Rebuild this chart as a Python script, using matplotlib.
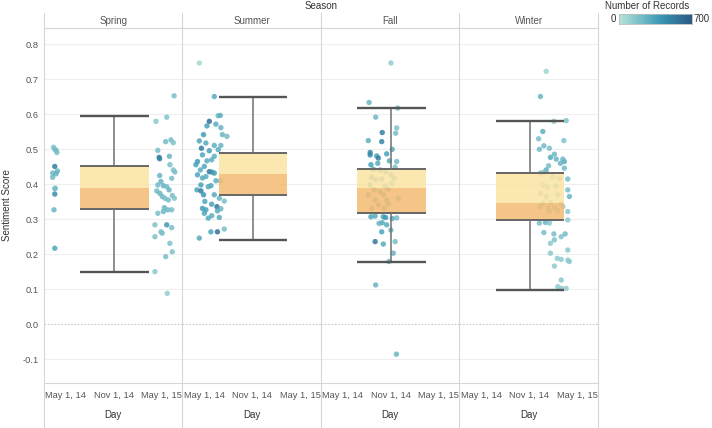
import numpy as np
import matplotlib
matplotlib.use('Agg')
import matplotlib.pyplot as plt
import matplotlib.dates as mdates
from matplotlib.colors import LinearSegmentedColormap, Normalize
from matplotlib.lines import Line2D
import pandas as pd

plt.rcParams['font.family'] = ['Liberation Sans', 'DejaVu Sans']

# ---------------- data ----------------
seasons = ['Spring', 'Summer', 'Fall', 'Winter']

# box plot statistics per season
whisker_low = [0.150, 0.241, 0.179, 0.098]
q1 = [0.330, 0.369, 0.317, 0.298]
median = [0.390, 0.430, 0.390, 0.347]
q3 = [0.451, 0.490, 0.443, 0.431]
whisker_high = [0.594, 0.651, 0.617, 0.580]

# points: day offset from May 1, 2014 / sentiment score / number of records
spring_days = [-46, -41, -36, -33, -41, -31, -49, -36, -49, -41, -39, -41, -44, -41,
               413, 344, 385, 381, 401, 410, 351, 356, 358, 395, 397, 410, 416, 358,
               404, 363, 351, 372, 385, 394, 347, 359, 368, 378, 391, 406, 414, 376,
               389, 404, 351, 372, 340, 385, 404, 363, 368, 340, 397, 406, 381, 340, 387]
spring_score = [0.506, 0.500, 0.497, 0.491, 0.451, 0.438, 0.432, 0.430, 0.420, 0.387, 0.389, 0.372, 0.327, 0.217,
                0.653, 0.580, 0.592, 0.522, 0.527, 0.519, 0.497, 0.477, 0.473, 0.480, 0.456, 0.441, 0.435, 0.425,
                0.417, 0.408, 0.398, 0.396, 0.393, 0.384, 0.381, 0.374, 0.365, 0.360, 0.355, 0.368, 0.360, 0.333,
                0.327, 0.327, 0.317, 0.322, 0.284, 0.284, 0.276, 0.264, 0.260, 0.250, 0.231, 0.207, 0.193, 0.150, 0.088]
spring_records = [180, 200, 220, 200, 520, 250, 230, 260, 240, 220, 200, 450, 250, 330,
                  200, 150, 180, 220, 200, 180, 200, 520, 500, 250, 200, 180, 200, 250,
                  200, 250, 220, 250, 230, 250, 220, 250, 230, 200, 220, 200, 180, 250,
                  230, 200, 200, 230, 180, 400, 200, 200, 200, 180, 180, 180, 200, 150, 120]

summer_days = [-18, 39, 54, 62, 20, 45, 11, -2, 64, 70, 87, -18, 7, 39, 64, -10, 20, 54, -6, 39,
               -25, 11, 29, -31, 1, -14, 20, 29, 39, -25, -6, 7, 45, 62, -12, 26, 16, -27, -12, -2,
               39, 58, 77, 3, 29, 49, -6, 7, 64, 51, 1, 29, 16, 58, 77, 26, 51, -18]
summer_score = [0.747, 0.651, 0.596, 0.597, 0.580, 0.572, 0.567, 0.542, 0.562, 0.542, 0.537, 0.524, 0.518, 0.511, 0.511, 0.503, 0.496, 0.499, 0.484, 0.480,
                0.465, 0.467, 0.470, 0.456, 0.451, 0.441, 0.436, 0.435, 0.432, 0.427, 0.418, 0.422, 0.410, 0.410, 0.398, 0.396, 0.393, 0.384, 0.381, 0.370,
                0.370, 0.360, 0.352, 0.351, 0.343, 0.336, 0.331, 0.327, 0.330, 0.324, 0.317, 0.310, 0.303, 0.305, 0.272, 0.264, 0.264, 0.246]
summer_records = [60, 300, 250, 280, 600, 300, 350, 380, 260, 250, 220, 330, 300, 280, 250, 520, 350, 300, 330, 280,
                  380, 300, 280, 350, 330, 300, 560, 420, 380, 330, 300, 300, 280, 200, 350, 330, 300, 330, 520, 400,
                  300, 250, 200, 330, 350, 550, 380, 350, 250, 300, 330, 280, 300, 300, 200, 330, 580, 300]

fall_days = [101, 210, 126, 206, 202, 151, 98, 149, 189, 105, 105, 130, 136, 168, 178, 206, 108, 134, 117, 143,
             200, 164, 184, 111, 126, 149, 197, 105, 162, 187, 121, 143, 174, 98, 155, 212, 124, 168, 136, 174,
             159, 111, 108, 124, 155, 164, 189, 206, 139, 168, 151, 184, 149, 124, 155, 200, 193, 177, 126, 184, 205]
fall_score = [0.634, 0.618, 0.592, 0.561, 0.546, 0.548, 0.525, 0.522, 0.500, 0.491, 0.484, 0.481, 0.475, 0.487, 0.467, 0.465, 0.456, 0.460, 0.443, 0.441,
              0.449, 0.436, 0.427, 0.420, 0.413, 0.415, 0.417, 0.398, 0.395, 0.403, 0.384, 0.379, 0.386, 0.370, 0.370, 0.360, 0.355, 0.355, 0.341, 0.344,
              0.331, 0.331, 0.307, 0.309, 0.307, 0.305, 0.302, 0.304, 0.288, 0.284, 0.290, 0.269, 0.264, 0.236, 0.229, 0.236, 0.203, 0.179, 0.112, 0.747, -0.086]
fall_records = [250, 200, 230, 180, 200, 520, 280, 480, 300, 450, 480, 350, 500, 350, 300, 220, 350, 300, 300, 280,
                200, 250, 250, 250, 250, 250, 220, 300, 250, 230, 250, 250, 220, 250, 250, 200, 250, 230, 250, 230,
                250, 250, 330, 300, 350, 400, 300, 220, 250, 300, 300, 250, 330, 550, 300, 200, 250, 250, 250, 120, 250]

winter_days = [248, 226, 324, 277, 235, 219, 315, 239, 222, 260, 279, 264, 286, 311, 317, 302, 257, 317, 248, 226,
               239, 273, 298, 330, 235, 252, 286, 330, 336, 226, 248, 292, 235, 264, 305, 226, 257, 279, 311, 260,
               292, 330, 222, 245, 260, 330, 239, 277, 305, 320, 264, 279, 330, 264, 290, 305, 330, 336, 279, 305, 292, 307, 324]
winter_score = [0.723, 0.651, 0.582, 0.580, 0.551, 0.530, 0.525, 0.510, 0.500, 0.503, 0.486, 0.477, 0.472, 0.472, 0.465, 0.460, 0.453, 0.446, 0.441, 0.432,
                0.434, 0.420, 0.417, 0.415, 0.398, 0.392, 0.395, 0.384, 0.365, 0.374, 0.365, 0.370, 0.346, 0.348, 0.344, 0.336, 0.333, 0.333, 0.336, 0.322,
                0.325, 0.322, 0.289, 0.291, 0.289, 0.298, 0.262, 0.258, 0.250, 0.258, 0.231, 0.241, 0.212, 0.203, 0.188, 0.185, 0.183, 0.179, 0.166, 0.126, 0.107, 0.102, 0.102]
winter_records = [80, 250, 180, 150, 280, 200, 180, 230, 220, 200, 230, 300, 250, 230, 280, 250, 200, 220, 280, 200,
                  200, 180, 180, 200, 150, 180, 180, 200, 250, 180, 180, 150, 180, 150, 150, 150, 150, 150, 150, 150,
                  150, 150, 200, 250, 150, 150, 200, 200, 180, 220, 150, 180, 150, 150, 130, 130, 130, 150, 130, 150, 130, 130, 130]

x_tick_dates = ['2014-05-01', '2014-11-01', '2015-05-01']
x_tick_labels = ['May 1, 14', 'Nov 1, 14', 'May 1, 15']
y_ticks = [-0.1, 0.0, 0.1, 0.2, 0.3, 0.4, 0.5, 0.6, 0.7, 0.8]

# ---------------- styling / layout ----------------
W, H = 712, 428
def fx(px): return px / W
def fy(py): return 1 - py / H

base = pd.Timestamp('2014-05-01')
x_min = mdates.date2num(base - pd.Timedelta(days=82))
x_max = mdates.date2num(base + pd.Timedelta(days=445))
box_x0 = mdates.date2num(pd.Timestamp('2014-06-25'))
box_x1 = mdates.date2num(pd.Timestamp('2015-03-13'))
box_xc = (box_x0 + box_x1) / 2

cmap = LinearSegmentedColormap.from_list(
    'bluteal', ['#bce4d8', '#9dd3d1', '#81c3cb', '#65b3c2', '#45a2b9',
                '#368fae', '#347da0', '#306a93', '#2c5985'])
norm = Normalize(0, 700)

text_col = '#555555'
grid_col = '#eeeeee'
sep_col = '#d6d6d6'
fs = 7
fs_tick = 6.7

all_days = [spring_days, summer_days, fall_days, winter_days]
all_score = [spring_score, summer_score, fall_score, winter_score]
all_rec = [spring_records, summer_records, fall_records, winter_records]

fig = plt.figure(figsize=(W / 100, H / 100), dpi=100)
panel_left = [44, 182.5, 321, 459.5]
pw = 138.5
top, bottom = 28, 382.5

for i, s in enumerate(seasons):
    ax = fig.add_axes([fx(panel_left[i]), fy(bottom), pw / W, (bottom - top) / H])
    ax.set_xlim(x_min, x_max)
    ax.set_ylim(-0.167, 0.847)
    for sp in ax.spines.values():
        sp.set_visible(False)
    for y in y_ticks:
        if y == 0.0:
            ax.axhline(y, color='#c8c8c8', lw=0.8, ls=(0, (1.5, 1.5)), zorder=0)
        else:
            ax.axhline(y, color=grid_col, lw=0.8, zorder=0)

    dates = [mdates.date2num(base + pd.Timedelta(days=d)) for d in all_days[i]]
    ax.scatter(dates, all_score[i], c=all_rec[i], cmap=cmap, norm=norm, s=15,
               alpha=0.85, edgecolors='none', zorder=2)

    # box
    ax.fill_between([box_x0, box_x1], median[i], q3[i], color='#fbe3a3', alpha=0.85, lw=0, zorder=3)
    ax.fill_between([box_x0, box_x1], q1[i], median[i], color='#f4bb72', alpha=0.85, lw=0, zorder=3)
    ax.hlines([q1[i], q3[i]], box_x0, box_x1, color='#666666', lw=1.4, zorder=4)
    ax.vlines(box_xc, q3[i], whisker_high[i], color='#707070', lw=1.1, zorder=4)
    ax.vlines(box_xc, whisker_low[i], q1[i], color='#707070', lw=1.1, zorder=4)
    ax.hlines([whisker_low[i], whisker_high[i]], box_x0, box_x1, color='#555555', lw=1.7, zorder=4)

    ax.set_xticks([mdates.date2num(pd.Timestamp(d)) for d in x_tick_dates])
    ax.set_xticklabels(x_tick_labels, fontsize=fs_tick, color=text_col)
    ax.tick_params(axis='x', length=0, pad=6)
    if i == 0:
        ax.set_yticks(y_ticks)
        ax.set_yticklabels([f'{v:.1f}' for v in y_ticks], fontsize=fs_tick, color=text_col)
        ax.tick_params(axis='y', length=0, pad=4)
    else:
        ax.set_yticks([])
    ax.patch.set_alpha(0)

    cx = panel_left[i] + pw / 2
    fig.text(fx(cx), fy(21), s, ha='center', va='center', fontsize=fs, color=text_col)
    fig.text(fx(cx), fy(415), 'Day', ha='center', va='center', fontsize=fs, color='#333333')

# frame / separators
for x in panel_left + [panel_left[-1] + pw]:
    fig.add_artist(Line2D([fx(x), fx(x)], [fy(13), fy(428)], color=sep_col, lw=0.8))
for y in [top, bottom]:
    fig.add_artist(Line2D([fx(44), fx(598)], [fy(y), fy(y)], color=sep_col, lw=0.8))

fig.text(fx(321), fy(6), 'Season', ha='center', va='center', fontsize=fs, color='#333333')
fig.text(fx(7), fy(205), 'Sentiment Score', ha='center', va='center', rotation=90,
         fontsize=fs, color='#333333')

# colour legend
fig.text(fx(647), fy(6), 'Number of Records', ha='center', va='center', fontsize=fs, color='#333333')
cax = fig.add_axes([fx(619), fy(24), 73 / W, 10 / H])
grad = np.linspace(0, 700, 256).reshape(1, -1)
cax.imshow(grad, aspect='auto', cmap=cmap, norm=norm)
cax.set_xticks([]); cax.set_yticks([])
for sp in cax.spines.values():
    sp.set_color('#bbbbbb'); sp.set_linewidth(0.6)
fig.text(fx(613), fy(19), '0', ha='center', va='center', fontsize=fs, color='#333333')
fig.text(fx(702), fy(19), '700', ha='center', va='center', fontsize=fs, color='#333333')

fig.savefig('out.png', dpi=100)
